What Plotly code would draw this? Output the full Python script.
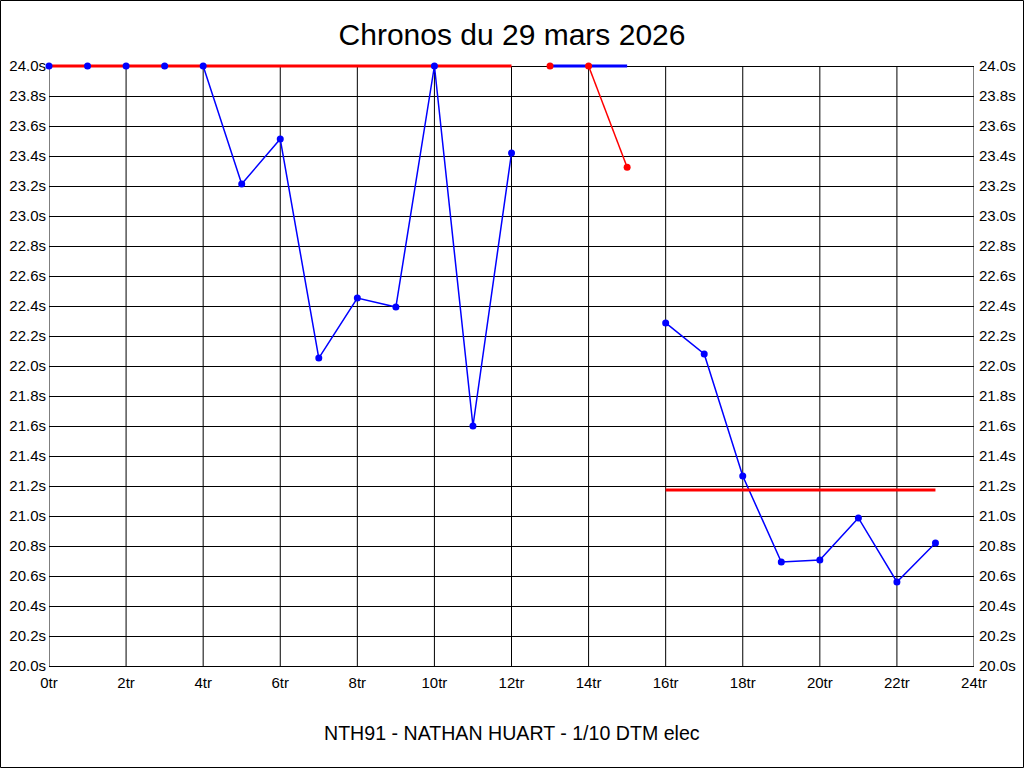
import plotly.graph_objects as go

laps_a = [0, 1, 2, 3, 4, 5, 6, 7, 8, 9, 10, 11, 12]
times_a = [24.0, 24.0, 24.0, 24.0, 24.0, 23.213, 23.513, 22.053, 22.453, 22.393, 24.0, 21.6, 23.42]
laps_b = [16, 17, 18, 19, 20, 21, 22, 23]
times_b = [22.287, 22.08, 21.267, 20.693, 20.707, 20.987, 20.56, 20.82]
laps_mid = [13, 14, 15]
times_mid = [24.0, 24.0, 24.0]
ref_laps_1 = [0, 12]
ref_times_1 = [24.0, 24.0]
ref_laps_2 = [16, 23]
ref_times_2 = [21.173, 21.173]
red_laps_pt = [13]
red_times_pt = [24.0]
red_laps_seg = [14, 15]
red_times_seg = [24.0, 23.325]

x_ticks = list(range(0, 25, 2))
x_labels = [f"{v}tr" for v in x_ticks]
y_ticks = [round(20 + 0.2 * i, 1) for i in range(21)]
y_labels = [f"{v:.1f}s" for v in y_ticks]

BLUE = "#0000FF"
RED = "#FF0000"
Y_MIN, Y_MAX, Y_TOP = 20.0, 24.0, 24.06  # small headroom so the top lines are not clipped

fig = go.Figure()
# lines first
fig.add_trace(go.Scatter(x=laps_mid, y=times_mid, mode="lines",
                         line=dict(color=BLUE, width=3), showlegend=False))
fig.add_trace(go.Scatter(x=laps_a, y=times_a, mode="lines",
                         line=dict(color=BLUE, width=1.5), showlegend=False))
fig.add_trace(go.Scatter(x=laps_b, y=times_b, mode="lines",
                         line=dict(color=BLUE, width=1.5), showlegend=False))
fig.add_trace(go.Scatter(x=ref_laps_1, y=ref_times_1, mode="lines",
                         line=dict(color=RED, width=3), showlegend=False))
fig.add_trace(go.Scatter(x=ref_laps_2, y=ref_times_2, mode="lines",
                         line=dict(color=RED, width=3), showlegend=False))
fig.add_trace(go.Scatter(x=red_laps_seg, y=red_times_seg, mode="lines",
                         line=dict(color=RED, width=1.5), showlegend=False))
# markers on top
fig.add_trace(go.Scatter(x=laps_a + laps_b, y=times_a + times_b, mode="markers",
                         marker=dict(color=BLUE, size=7), cliponaxis=False, showlegend=False))
fig.add_trace(go.Scatter(x=red_laps_pt + red_laps_seg, y=red_times_pt + red_times_seg,
                         mode="markers", marker=dict(color=RED, size=7),
                         cliponaxis=False, showlegend=False))
# invisible trace for the right axis
fig.add_trace(go.Scatter(x=[0], y=[20], yaxis="y2", mode="markers",
                         marker=dict(opacity=0), showlegend=False, hoverinfo="skip"))

W, H = 1024, 768
L, R, B = 49, 50, 102
px_per_s = 150
T = 66 - round((Y_TOP - Y_MAX) * px_per_s)
pw, ph = W - L - R, H - T - B

# vertical grid lines / frame from 20 to 24 only
shapes = [dict(type="line", xref="x", yref="y", x0=v, x1=v, y0=Y_MIN, y1=Y_MAX,
               line=dict(color="black", width=1), layer="below") for v in x_ticks]
shapes.append(dict(type="rect", xref="paper", yref="paper",
                   x0=(0.5 - L) / pw, x1=(W - 0.5 - L) / pw,
                   y0=-(B - 0.5) / ph, y1=1 + (T - 0.5) / ph,
                   line=dict(color="black", width=1), fillcolor="rgba(0,0,0,0)"))

tickfont = dict(family="Arial, Liberation Sans", size=15, color="black")
fig.update_layout(
    width=W, height=H,
    margin=dict(l=L, r=R, t=T, b=B, pad=0, autoexpand=False),
    paper_bgcolor="white", plot_bgcolor="white",
    title=dict(text="Chronos du 29 mars 2026", x=0.5, xanchor="center",
               y=1 - 34 / H, yanchor="middle",
               font=dict(family="Arial, Liberation Sans", size=30, color="black")),
    xaxis=dict(range=[0, 24], tickvals=x_ticks, ticktext=x_labels, automargin=False,
               showgrid=False, showline=True, linecolor="black", linewidth=1,
               zeroline=False, ticks="", tickfont=tickfont, ticklabelstandoff=3),
    yaxis=dict(range=[Y_MIN, Y_TOP], tickvals=y_ticks, ticktext=y_labels, automargin=False,
               showgrid=True, gridcolor="black", gridwidth=1,
               showline=False, zeroline=False, ticks="", tickfont=tickfont,
               ticklabelstandoff=2),
    yaxis2=dict(range=[Y_MIN, Y_TOP], tickvals=y_ticks, ticktext=y_labels, automargin=False,
                overlaying="y", side="right", showgrid=False, showline=False,
                zeroline=False, ticks="", tickfont=tickfont, ticklabelstandoff=4),
    annotations=[dict(text="NTH91 - NATHAN HUART - 1/10 DTM elec",
                      xref="paper", yref="paper", x=0.5,
                      y=-(733 - T - ph) / ph, xanchor="center", yanchor="middle",
                      showarrow=False,
                      font=dict(family="Arial, Liberation Sans", size=19.6, color="black"))],
    shapes=shapes,
)

fig.write_html("out.html", config={"displayModeBar": False},
               post_script="document.body.style.margin='0';")
